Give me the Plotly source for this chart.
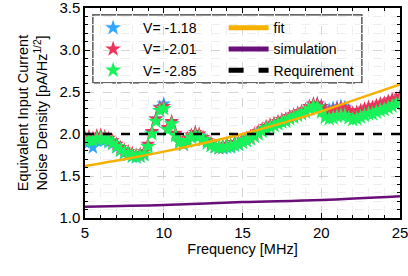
import plotly.graph_objects as go

freq = [5.0 + 0.25 * i for i in range(81)]

green = [1.92, 1.93, 1.92, 1.94, 1.95, 1.94, 1.92, 1.89, 1.85, 1.81,
         1.78, 1.76, 1.74, 1.73, 1.74, 1.76, 1.85, 2.00, 2.15, 2.28,
         2.30, 2.05, 2.12, 1.98, 1.90, 1.88, 1.92, 1.96, 1.98, 1.97,
         1.93, 1.89, 1.86, 1.85, 1.84, 1.84, 1.85, 1.85, 1.87, 1.88,
         1.90, 1.92, 1.94, 1.97, 2.00, 2.03, 2.06, 2.08, 2.10, 2.12,
         2.14, 2.15, 2.18, 2.20, 2.22, 2.24, 2.26, 2.30, 2.33, 2.32,
         2.26, 2.20, 2.18, 2.19, 2.21, 2.22, 2.22, 2.19, 2.17, 2.18,
         2.20, 2.22, 2.24, 2.24, 2.26, 2.28, 2.29, 2.31, 2.33, 2.35,
         2.38]

red = [1.96, 1.97, 1.95, 1.98, 1.99, 1.97, 1.95, 1.92, 1.88, 1.84,
       1.81, 1.79, 1.77, 1.75, 1.76, 1.79, 1.88, 2.03, 2.18, 2.31,
       2.33, 2.08, 2.15, 2.01, 1.93, 1.91, 1.95, 1.99, 2.02, 2.00,
       1.96, 1.92, 1.89, 1.86, 1.83, 1.86, 1.88, 1.87, 1.90, 1.90,
       1.93, 1.95, 1.97, 2.00, 2.03, 2.06, 2.09, 2.11, 2.13, 2.15,
       2.17, 2.18, 2.21, 2.23, 2.25, 2.27, 2.29, 2.33, 2.36, 2.36,
       2.33, 2.28, 2.26, 2.28, 2.30, 2.31, 2.30, 2.28, 2.25, 2.26,
       2.28, 2.30, 2.32, 2.32, 2.34, 2.36, 2.37, 2.39, 2.41, 2.42,
       2.45]

blue = [1.90, 1.90, 1.84, 1.92, 1.93, 1.92, 1.90, 1.88, 1.84, 1.80,
        1.77, 1.75, 1.73, 1.72, 1.73, 1.75, 1.86, 2.02, 2.18, 2.32,
        2.36, 2.06, 2.14, 1.99, 1.90, 1.87, 1.91, 1.96, 1.99, 1.98,
        1.94, 1.90, 1.86, 1.84, 1.83, 1.83, 1.84, 1.84, 1.86, 1.87,
        1.90, 1.92, 1.94, 1.97, 2.01, 2.04, 2.07, 2.09, 2.11, 2.13,
        2.15, 2.17, 2.20, 2.22, 2.24, 2.26, 2.28, 2.32, 2.35, 2.36,
        2.33, 2.30, 2.29, 2.31, 2.32, 2.33, 2.32, 2.27, 2.24, 2.25,
        2.27, 2.29, 2.31, 2.31, 2.33, 2.35, 2.36, 2.38, 2.40, 2.41,
        2.43]

fit_f = [5, 7.5, 10, 12.5, 15, 17.5, 20, 22.5, 25]
fit_v = [1.62, 1.70, 1.79, 1.89, 2.00, 2.13, 2.27, 2.43, 2.59]

sim_f = [5, 10, 15, 20, 25]
sim_v = [1.135, 1.155, 1.19, 1.215, 1.26]

req_f = [5, 25]
req_v = [2.0, 2.0]

names = ["V= -1.18", "V= -2.01", "V= -2.85"]
colors = ["#2ea8ff", "#f0325a", "#19f25a"]
series = [blue, red, green]
msizes = [11, 11, 12]

fig = go.Figure()
for nm, col, ys, ms in zip(names, colors, series, msizes):
    fig.add_trace(go.Scatter(
        x=freq, y=ys, mode="markers", name=nm, legend="legend",
        marker=dict(symbol="star", size=ms, color=col, line=dict(width=0)),
    ))

fig.add_trace(go.Scatter(x=fit_f, y=fit_v, mode="lines", name="fit", legend="legend2",
                         line=dict(color="#f5b000", width=2.5, shape="spline")))
fig.add_trace(go.Scatter(x=sim_f, y=sim_v, mode="lines", name="simulation", legend="legend2",
                         line=dict(color="#6a0f7a", width=2.5, shape="spline")))
fig.add_trace(go.Scatter(x=req_f, y=req_v, mode="lines", name="Requirement", legend="legend2",
                         line=dict(color="black", width=2.5, dash="dash")))

font = "Liberation Sans, Arial, sans-serif"
axis_common = dict(
    showline=True, linecolor="black", linewidth=1.5, mirror="allticks",
    ticks="inside", ticklen=5, tickwidth=1, tickcolor="black",
    showgrid=True, gridcolor="#d4d4d4", griddash="dash", gridwidth=1,
    zeroline=False, automargin=False, ticklabeloverflow="allow",
    tickfont=dict(family=font, size=15, color="black"),
)

fig.update_xaxes(
    range=[5, 25], dtick=5, tick0=5,
    minor=dict(dtick=1, ticks="inside", ticklen=3, tickcolor="black",
               showgrid=True, gridcolor="#efefef", gridwidth=1),
    title=dict(text="Frequency [MHz]", font=dict(family=font, size=14.5, color="black"), standoff=4),
    **axis_common,
)
fig.update_yaxes(
    range=[1.0, 3.5], dtick=0.5, tick0=1.0, tickformat=".1f",
    minor=dict(dtick=0.1, ticks="inside", ticklen=3, tickcolor="black",
               showgrid=True, gridcolor="#efefef", gridwidth=1),
    title=dict(text="Equivalent Input Current<br>Noise Density [pA/Hz<sup>1/2</sup>]",
               font=dict(family=font, size=14.5, color="black"), standoff=8),
    **axis_common,
)

leg_common = dict(
    orientation="v", xanchor="left", yanchor="top",
    bgcolor="rgba(0,0,0,0)", borderwidth=0,
    font=dict(family=font, size=14, color="black"),
    tracegroupgap=0, itemsizing="constant",
)

fig.update_layout(
    width=408, height=276,
    margin=dict(l=85, r=8, t=8, b=58),
    paper_bgcolor="white", plot_bgcolor="white",
    font=dict(family=font, color="black"),
    showlegend=True,
    legend=dict(x=-0.006, y=0.98, itemwidth=50, **leg_common),
    legend2=dict(x=0.44, y=0.98, itemwidth=40, **leg_common),
    shapes=[dict(type="rect", xref="paper", yref="paper",
                 x0=0.025, x1=0.879, y0=0.643, y1=0.967,
                 line=dict(color="#333333", width=1.2),
                 fillcolor="white", layer="below")],
)

fig.write_html("out.html", config={"displayModeBar": False},
               post_script="document.body.style.margin='0';")
